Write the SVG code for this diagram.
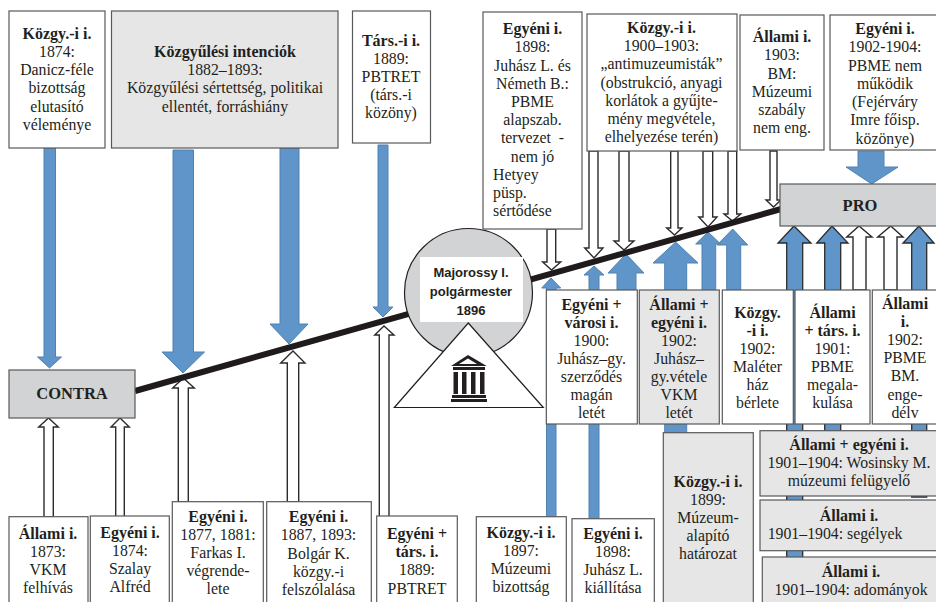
<svg xmlns="http://www.w3.org/2000/svg" width="936" height="602" viewBox="0 0 936 602">
<style>
rect{stroke:#58595b;stroke-width:1.2}
.w{fill:#fff}.g{fill:#e6e6e6}.k{fill:#d1d3d4}
.b{fill:#5f95c9;stroke:#5082b2;stroke-width:1}
.bd{fill:#5f95c9;stroke:#2b2b2b;stroke-width:1.3}
.o{fill:#fff;stroke:#2b2b2b;stroke-width:1.4}
text{font-family:"Liberation Serif","Times New Roman",serif;font-size:15.8px;fill:#231f20;text-anchor:middle}
.h{font-weight:bold;font-size:16px}
.s{font-family:"Liberation Sans",Arial,sans-serif;font-weight:bold;font-size:13px}
.l{text-anchor:start}
.c{font-size:16.500px;font-weight:bold}
</style>
<g id="connectors">
<polygon class="b" points="44,148 55.5,148 55.5,357 61.5,357 49.5,368 37.5,357 44,357"/>
<polygon class="b" points="173,150 193.5,150 193.5,352 204.5,352 183,373 162,352 173,352"/>
<polygon class="b" points="280,148 299,148 299,324 308,324 289,344 270,324 280,324"/>
<polygon class="b" points="378,145 388,145 388,307 393,307 383,317 373,307 378,307"/>
<polygon class="b" points="858,151 884,151 884,167 898,167 871.7,184 846,167 858,167"/>
<polygon class="o" points="44,517 53.3,517 53.3,427 58.3,427 48.5,418 38.7,427 44,427"/>
<polygon class="o" points="115.7,517 124.3,517 124.3,427 129.3,427 120,418 111,427 115.7,427"/>
<polygon class="o" points="178.3,502 188.3,502 188.3,388 194.3,388 183.3,378 172.7,388 178.3,388"/>
<polygon class="o" points="287.3,502 298.7,502 298.7,363 305,363 293,351 280.7,363 287.3,363"/>
<polygon class="o" points="379.3,517 389,517 389,335 394,335 384,326 374.7,335 379.3,335"/>
<polygon class="b" points="546.5,520 556,520 556,288 560.7,288 551,278 541.7,288 546.5,288"/>
<polygon class="b" points="589,520 599,520 599,275 604,275 594,266 584,275 589,275"/>
<polygon class="b" points="617,292 636,292 636,273 644,273 626,254 608,273 617,273"/>
<polygon class="b" points="664.7,434 686.7,434 686.7,263 698,263 675.7,242 653,263 664.7,263"/>
<polygon class="b" points="726.7,292 740.7,292 740.7,245 747.7,245 732.7,229 717,245 726.7,245"/>
<polygon class="b" points="702,292 715.7,292 715.7,244 720.7,244 708,232 695.7,244 702,244"/>
<polygon class="bd" points="786.7,558 802.7,558 802.7,243 811,243 794,226 778,243 786.7,243"/>
<polygon class="bd" points="824.7,432 840.7,432 840.7,243 848,243 832,226 816.7,243 824.7,243"/>
<polygon class="o" points="853,290 866,290 866,237 872,237 859,226 846.7,237 853,237"/>
<polygon class="o" points="884,290 897,290 897,237 903,237 890.7,226 877.7,237 884,237"/>
<polygon class="bd" points="911.7,497 926.7,497 926.7,243 934,243 919,226 903,243 911.7,243"/>
<polygon class="o" points="547,229 555.7,229 555.7,262 560.7,262 551.5,270 542.7,262 547,262"/>
<polygon class="o" points="589,151 598,151 598,248 603,248 594,258 584.7,248 589,248"/>
<polygon class="o" points="619,151 629,151 629,241 634,241 624,250 614,241 619,241"/>
<polygon class="o" points="670.7,151 678,151 678,228 682,228 674.5,235 666.7,228 670.7,228"/>
<polygon class="o" points="703,151 712.7,151 712.7,217 717,217 708,227 698.7,217 703,217"/>
<polygon class="o" points="728,151 736.7,151 736.7,214 740.7,214 732.5,221 724,214 728,214"/>
<polygon class="o" points="770,151 777,151 777,200 781,200 773.5,207 766,200 770,200"/>
<line x1="135" y1="391" x2="781" y2="209" stroke="#1f1a1b" stroke-width="6"/>
</g>
<g id="n-contra"><rect class="k" x="9" y="370" width="126" height="48"/><text class="c" x="72" y="399">CONTRA</text></g>
<g id="n-pro"><rect class="k" x="780" y="184" width="160" height="42"/><text class="c" x="860" y="211">PRO</text></g>
<g id="n-major">
<circle cx="468.5" cy="292.5" r="64" fill="#d1d3d4" stroke="#231f20" stroke-width="1.2"/>
<rect x="420" y="257" width="103" height="65" fill="#fff" style="stroke:none"/>
<polygon points="468.3,323 543.3,407.5 394.3,407.5" fill="#fff" stroke="#231f20" stroke-width="1.2"/>
<text class="s" x="471" y="276.5">Majorossy I.</text>
<text class="s" x="471" y="296">polgármester</text>
<text class="s" x="471" y="315">1896</text>
<path fill="#231f20" d="M468 355 L486.7 366 H451 Z M453 367 H485 V370 H453 Z M453.500 372 H458 V394 H453.500 Z M462 372 H466.500 V394 H462 Z M471 372 H475.500 V394 H471 Z M480 372 H484.500 V394 H480 Z M452 395 H486 V398 H452 Z M451 399 H487 V402 H451 Z"/>
<path fill="#fff" d="M468 358.500 L477 364 H459 Z"/>
</g>
<g id="n1"><rect class="w" x="9" y="11" width="96" height="137"/><text class="h" x="57" y="39">Közgy.-i i.</text><text x="57" y="57">1874:</text><text x="57" y="75">Danicz-féle</text><text x="57" y="93">bizottság</text><text x="57" y="112">elutasító</text><text x="57" y="130">véleménye</text></g>
<g id="n2"><rect class="g" x="111.500" y="11" width="226.500" height="137"/><text class="h" x="225" y="57">Közgyűlési intenciók</text><text x="225" y="75">1882–1893:</text><text x="225" y="93">Közgyűlési sértettség, politikai</text><text x="225" y="112">ellentét, forráshiány</text></g>
<g id="n3"><rect class="w" x="352.500" y="11" width="78" height="132"/><text class="h" x="391" y="46">Társ.-i i.</text><text x="391" y="64">1889:</text><text x="391" y="82">PBTRET</text><text x="391" y="100">(társ.-i</text><text x="391" y="118">közöny)</text></g>
<g id="n4"><rect class="w" x="483" y="12" width="99" height="217"/><text class="h" x="532.500" y="34">Egyéni i.</text><text x="532.500" y="52">1898:</text><text x="532.500" y="71">Juhász L. és</text><text x="532.500" y="89">Németh B.:</text><text x="532.500" y="107">PBME</text><text x="532.500" y="125">alapszab.</text><text x="532.500" y="143">tervezet&#160;&#160;-</text><text x="532.500" y="162">nem jó</text><text class="l" x="493" y="180">Hetyey</text><text class="l" x="493" y="198">püsp.</text><text class="l" x="493" y="216">sértődése</text></g>
<g id="n5"><rect class="w" x="587" y="14" width="150" height="137"/><text class="h" x="661.500" y="33">Közgy.-i i.</text><text x="661.500" y="51">1900–1903:</text><text x="661.500" y="69">„antimuzeumisták”</text><text x="661.500" y="88">(obstrukció, anyagi</text><text x="661.500" y="106">korlátok a gyűjte-</text><text x="661.500" y="124">mény megvétele,</text><text x="661.500" y="142">elhelyezése terén)</text></g>
<g id="n6"><rect class="w" x="740" y="15" width="84" height="135"/><text class="h" x="782" y="42">Állami i.</text><text x="782" y="60">1903:</text><text x="782" y="79">BM:</text><text x="782" y="97">Múzeumi</text><text x="782" y="115">szabály</text><text x="782" y="133">nem eng.</text></g>
<g id="n7"><rect class="w" x="830" y="15" width="110" height="135"/><text class="h" x="885" y="34">Egyéni i.</text><text x="885" y="52">1902-1904:</text><text x="885" y="71">PBME nem</text><text x="885" y="89">működik</text><text x="885" y="107">(Fejérváry</text><text x="885" y="125">Imre főisp.</text><text x="885" y="144">közönye)</text></g>
<g id="n8"><rect class="w" x="546.300" y="290" width="91" height="134"/><text class="h" x="591.500" y="309.500">Egyéni +</text><text class="h" x="591.500" y="327.500">városi i.</text><text x="591.500" y="346">1900:</text><text x="591.500" y="364">Juhász–gy.</text><text x="591.500" y="382">szerződés</text><text x="591.500" y="400">magán</text><text x="591.500" y="418">letét</text></g>
<g id="n9"><rect class="g" x="639.300" y="290" width="80" height="134"/><text class="h" x="679" y="309.500">Állami +</text><text class="h" x="679" y="327.500">egyéni i.</text><text x="679" y="346">1902:</text><text x="679" y="364">Juhász–</text><text x="679" y="382">gy.vétele</text><text x="679" y="400">VKM</text><text x="679" y="418">letét</text></g>
<g id="n10"><rect class="w" x="722.300" y="290" width="71" height="134"/><text class="h" x="757.500" y="318">Közgy.</text><text class="h" x="757.500" y="336">-i i.</text><text x="757.500" y="354">1902:</text><text x="757.500" y="372">Maléter</text><text x="757.500" y="390">ház</text><text x="757.500" y="408">bérlete</text></g>
<g id="n11"><rect class="w" x="795" y="290" width="75" height="134"/><text class="h" x="832.500" y="318">Állami</text><text class="h" x="832.500" y="336">+ társ. i.</text><text x="832.500" y="354">1901:</text><text x="832.500" y="372">PBME</text><text x="832.500" y="390">megala-</text><text x="832.500" y="408">kulása</text></g>
<g id="n12"><rect class="w" x="872.300" y="290" width="68" height="134"/><text class="h" x="905" y="309">Állami</text><text class="h" x="905" y="327">i.</text><text x="905" y="345">1902:</text><text x="905" y="363">PBME</text><text x="905" y="381">BM.</text><text x="905" y="400">enge-</text><text x="905" y="418">délv</text></g>
<g id="n13"><rect class="g" x="663.300" y="432.700" width="90" height="180"/><text class="h" x="708" y="487">Közgy.-i i.</text><text x="708" y="505">1899:</text><text x="708" y="523">Múzeum-</text><text x="708" y="541">alapító</text><text x="708" y="559">határozat</text></g>
<g id="n14"><rect class="g" x="760" y="430.700" width="180" height="65.300"/><text class="h" x="849" y="450">Állami + egyéni i.</text><text x="849" y="468">1901–1904: Wosinsky M.</text><text x="849" y="486">múzeumi felügyelő</text></g>
<g id="n15"><rect class="g" x="760" y="500" width="180" height="50.700"/><text class="h" x="849" y="521">Állami i.</text><text x="835" y="539">1901–1904: segélyek</text></g>
<g id="n16"><rect class="g" x="762.300" y="557" width="180" height="60"/><text class="h" x="851" y="577">Állami i.</text><text x="851" y="595">1901–1904: adományok</text></g>
<g id="n17"><rect class="w" x="9" y="516.700" width="79" height="100"/><text class="h" x="48" y="539">Állami i.</text><text x="48" y="557">1873:</text><text x="48" y="575">VKM</text><text x="48" y="593">felhívás</text></g>
<g id="n18"><rect class="w" x="90.300" y="516" width="79" height="100"/><text class="h" x="130" y="538">Egyéni i.</text><text x="130" y="556">1874:</text><text x="130" y="574">Szalay</text><text x="130" y="592">Alfréd</text></g>
<g id="n19"><rect class="w" x="172.300" y="501.700" width="91" height="110"/><text class="h" x="218" y="522">Egyéni i.</text><text x="218" y="540">1877, 1881:</text><text x="218" y="558">Farkas I.</text><text x="218" y="576">végrende-</text><text x="218" y="594">lete</text></g>
<g id="n20"><rect class="w" x="266.700" y="501.700" width="104.600" height="110"/><text class="h" x="318.500" y="522">Egyéni i.</text><text x="318.500" y="540">1887, 1893:</text><text x="318.500" y="559">Bolgár K.</text><text x="318.500" y="577">közgy.-i</text><text x="318.500" y="595">felszólalása</text></g>
<g id="n21"><rect class="w" x="376.700" y="516" width="80.600" height="100"/><text class="h" x="417" y="539">Egyéni +</text><text class="h" x="417" y="557">társ. i.</text><text x="417" y="575">1889:</text><text x="417" y="594">PBTRET</text></g>
<g id="n22"><rect class="w" x="476.300" y="516.700" width="90" height="100"/><text class="h" x="521" y="538">Közgy.-i i.</text><text x="521" y="556">1897:</text><text x="521" y="574">Múzeumi</text><text x="521" y="592">bizottság</text></g>
<g id="n23"><rect class="w" x="572" y="518.700" width="82.300" height="100"/><text class="h" x="613" y="539">Egyéni i.</text><text x="613" y="557">1898:</text><text x="613" y="575">Juhász L.</text><text x="613" y="593">kiállítása</text></g>
</svg>
